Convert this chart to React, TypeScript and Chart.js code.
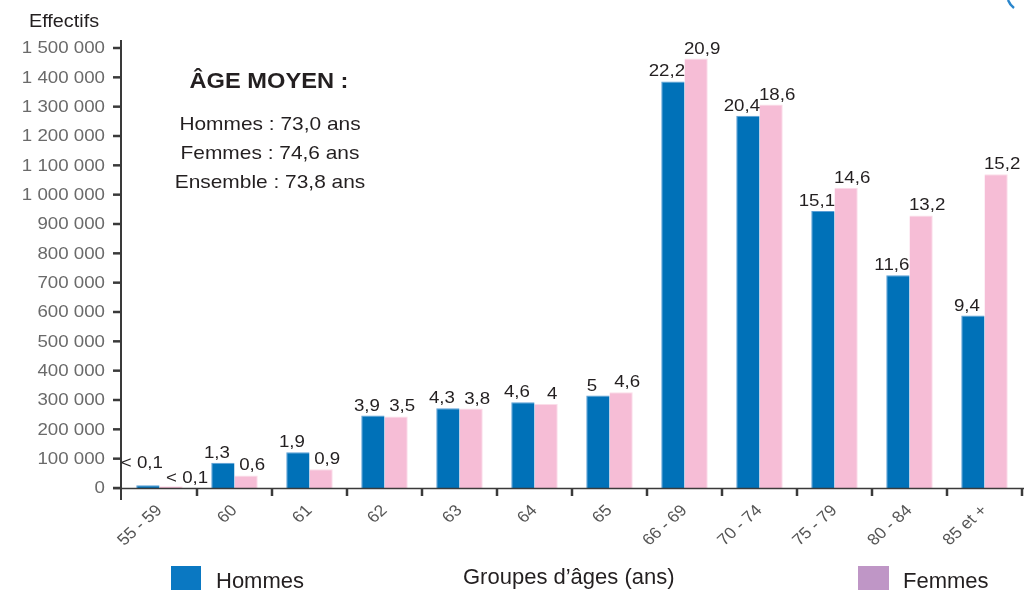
import React, { useEffect, useRef } from "react";
import { Chart, registerables } from "chart.js";

Chart.register(...registerables);

const categories = ["55 - 59", "60", "61", "62", "63", "64", "65", "66 - 69", "70 - 74", "75 - 79", "80 - 84", "85 et +"];
const hommes = [9000, 86000, 122000, 247000, 272000, 292000, 315000, 1386000, 1269000, 944000, 725000, 588000];
const femmes = [6000, 43000, 64000, 244000, 271000, 286000, 326000, 1464000, 1307000, 1024000, 929000, 1070000];
const hommesPct = ["< 0,1", "1,3", "1,9", "3,9", "4,3", "4,6", "5", "22,2", "20,4", "15,1", "11,6", "9,4"];
const femmesPct = ["< 0,1", "0,6", "0,9", "3,5", "3,8", "4", "4,6", "20,9", "18,6", "14,6", "13,2", "15,2"];
const yTicks = [0, 100000, 200000, 300000, 400000, 500000, 600000, 700000, 800000, 900000, 1000000, 1100000, 1200000, 1300000, 1400000, 1500000];
const yMax = 1500000;
const yTitle = "Effectifs";
const xTitle = "Groupes d\u2019âges (ans)";
const ageTitle = "ÂGE MOYEN :";
const ageLines = ["Hommes : 73,0 ans", "Femmes : 74,6 ans", "Ensemble : 73,8 ans"];
const seriesNames = ["Hommes", "Femmes"];

const BLUE = "#0071b8";
const BLUE_EDGE = "#5b9fd6";
const PINK = "#f6bdd6";
const PINK_EDGE = "#fbdde9";
const LEG_BLUE = "#0a78c2";
const LEG_PURPLE = "#bf96c6";
const FONT = '"Liberation Sans", Arial, Helvetica, sans-serif';
const SX = 1.1;

function fmt(v: number) {
  return String(v).replace(/\B(?=(\d{3})+(?!\d))/g, " ");
}

function txt(
  ctx: CanvasRenderingContext2D,
  s: string,
  x: number,
  y: number,
  size: number,
  color: string,
  align: CanvasTextAlign = "left",
  baseline: CanvasTextBaseline = "alphabetic",
  opts: { bold?: boolean; rot?: number; sx?: number } = {}
) {
  ctx.save();
  ctx.translate(x, y);
  ctx.scale(opts.sx ?? SX, 1);
  if (opts.rot) ctx.rotate(opts.rot);
  ctx.font = `${opts.bold ? "bold " : ""}${size}px ${FONT}`;
  ctx.fillStyle = color;
  ctx.textAlign = align;
  ctx.textBaseline = baseline;
  ctx.fillText(s, 0, 0);
  ctx.restore();
}

const decor = {
  id: "decor",
  afterDatasetsDraw(chart: any) {
    const ctx: CanvasRenderingContext2D = chart.ctx;
    const xs = chart.scales.x;
    const ys = chart.scales.y;
    const area = chart.chartArea;
    const y0 = ys.getPixelForValue(0);
    const yTop = ys.getPixelForValue(yMax);
    const axisX = area.left - 1;
    ctx.save();

    // y axis
    ctx.strokeStyle = "#3a3a3a";
    ctx.lineWidth = 2;
    ctx.beginPath();
    ctx.moveTo(axisX, yTop - 8);
    ctx.lineTo(axisX, y0 + 12);
    ctx.stroke();

    // x axis
    ctx.lineWidth = 1.5;
    ctx.beginPath();
    ctx.moveTo(axisX - 8, y0 + 0.5);
    ctx.lineTo(area.right + 2, y0 + 0.5);
    ctx.stroke();

    // y ticks + labels
    yTicks.forEach((v) => {
      const py = ys.getPixelForValue(v);
      ctx.strokeStyle = "#3a3a3a";
      ctx.lineWidth = 2.5;
      ctx.beginPath();
      ctx.moveTo(axisX - 8, py);
      ctx.lineTo(axisX, py);
      ctx.stroke();
      txt(ctx, fmt(v), axisX - 16, py + 0.5, 17, "#6a6a6a", "right", "middle");
    });

    // x ticks at category boundaries
    const n = categories.length;
    const step = n > 1 ? xs.getPixelForValue(1) - xs.getPixelForValue(0) : area.width;
    for (let i = 1; i <= n; i++) {
      const bx = xs.getPixelForValue(i - 1) + step / 2;
      ctx.strokeStyle = "#3a3a3a";
      ctx.lineWidth = 2.5;
      ctx.beginPath();
      ctx.moveTo(bx, y0);
      ctx.lineTo(bx, y0 + 8);
      ctx.stroke();
    }

    // x labels rotated
    categories.forEach((c, i) => {
      const cx = xs.getPixelForValue(i);
      txt(ctx, c, cx, y0 + 20, 16, "#555555", "right", "middle", { rot: -Math.PI / 4 });
    });

    // bar value labels
    const m0 = chart.getDatasetMeta(0);
    const m1 = chart.getDatasetMeta(1);
    m0.data.forEach((el: any, i: number) => {
      let dx = -6;
      let dy = -5;
      if (i === 0) {
        dx = -6;
        dy = -17;
      }
      txt(ctx, hommesPct[i], el.x + dx, el.y + dy, 17, "#231f20", "center", "alphabetic");
    });
    m1.data.forEach((el: any, i: number) => {
      let dx = 6;
      let dy = -5;
      if (i === 0) {
        dx = 16;
        dy = -3;
      }
      txt(ctx, femmesPct[i], el.x + dx, el.y + dy, 17, "#231f20", "center", "alphabetic");
    });

    // titles
    txt(ctx, yTitle, 29, 27, 18, "#231f20", "left", "alphabetic");
    txt(ctx, ageTitle, 269, 88, 21.5, "#231f20", "center", "alphabetic", { bold: true });
    ageLines.forEach((l, i) => {
      txt(ctx, l, 270, 130 + i * 29, 19, "#231f20", "center", "alphabetic");
    });

    // legend + x title
    ctx.fillStyle = LEG_BLUE;
    ctx.fillRect(171, 566, 30, 24);
    txt(ctx, seriesNames[0], 216, 588, 22, "#231f20", "left", "alphabetic", { sx: 1.0 });
    txt(ctx, xTitle, 463, 584, 22, "#231f20", "left", "alphabetic", { sx: 1.0 });
    ctx.fillStyle = LEG_PURPLE;
    ctx.fillRect(858, 566, 31, 24);
    txt(ctx, seriesNames[1], 903, 588, 22, "#231f20", "left", "alphabetic", { sx: 1.0 });

    // cut-off corner mark
    ctx.strokeStyle = "#2a86cc";
    ctx.lineWidth = 2.5;
    ctx.beginPath();
    ctx.moveTo(1008, 0);
    ctx.quadraticCurveTo(1010, 5, 1014, 8);
    ctx.stroke();

    ctx.restore();
  },
};

export default function App() {
  const ref = useRef<HTMLCanvasElement | null>(null);
  useEffect(() => {
    if (!ref.current) return;
    const chart = new Chart(ref.current, {
      type: "bar",
      data: {
        labels: categories,
        datasets: [
          {
            label: seriesNames[0],
            data: hommes,
            backgroundColor: BLUE,
            borderColor: BLUE_EDGE,
            borderWidth: { top: 1, left: 1, right: 0, bottom: 0 } as any,
            categoryPercentage: 0.62,
            barPercentage: 1.0,
          },
          {
            label: seriesNames[1],
            data: femmes,
            backgroundColor: PINK,
            borderColor: PINK_EDGE,
            borderWidth: { top: 1, left: 0, right: 1, bottom: 0 } as any,
            categoryPercentage: 0.62,
            barPercentage: 1.0,
          },
        ],
      },
      options: {
        animation: false,
        responsive: false,
        layout: { padding: { top: 48, right: 4, left: 0, bottom: 0 } },
        plugins: {
          legend: { display: false },
          tooltip: { enabled: false },
          title: { display: false },
        },
        scales: {
          x: {
            type: "category",
            offset: true,
            grid: { display: false },
            border: { display: false },
            ticks: { display: false },
            afterFit: (s: any) => {
              s.height = 103;
            },
          },
          y: {
            min: 0,
            max: yMax,
            grid: { display: false },
            border: { display: false },
            ticks: { display: false, stepSize: 100000 },
            afterFit: (s: any) => {
              s.width = 122;
            },
          },
        },
      },
      plugins: [decor],
    });
    return () => chart.destroy();
  }, []);
  return (
    <div style={{ position: "fixed", left: 0, top: 0, width: 1026, height: 591, background: "#fff" }}>
      <canvas ref={ref} width={1026} height={591} style={{ display: "block" }} />
    </div>
  );
}
